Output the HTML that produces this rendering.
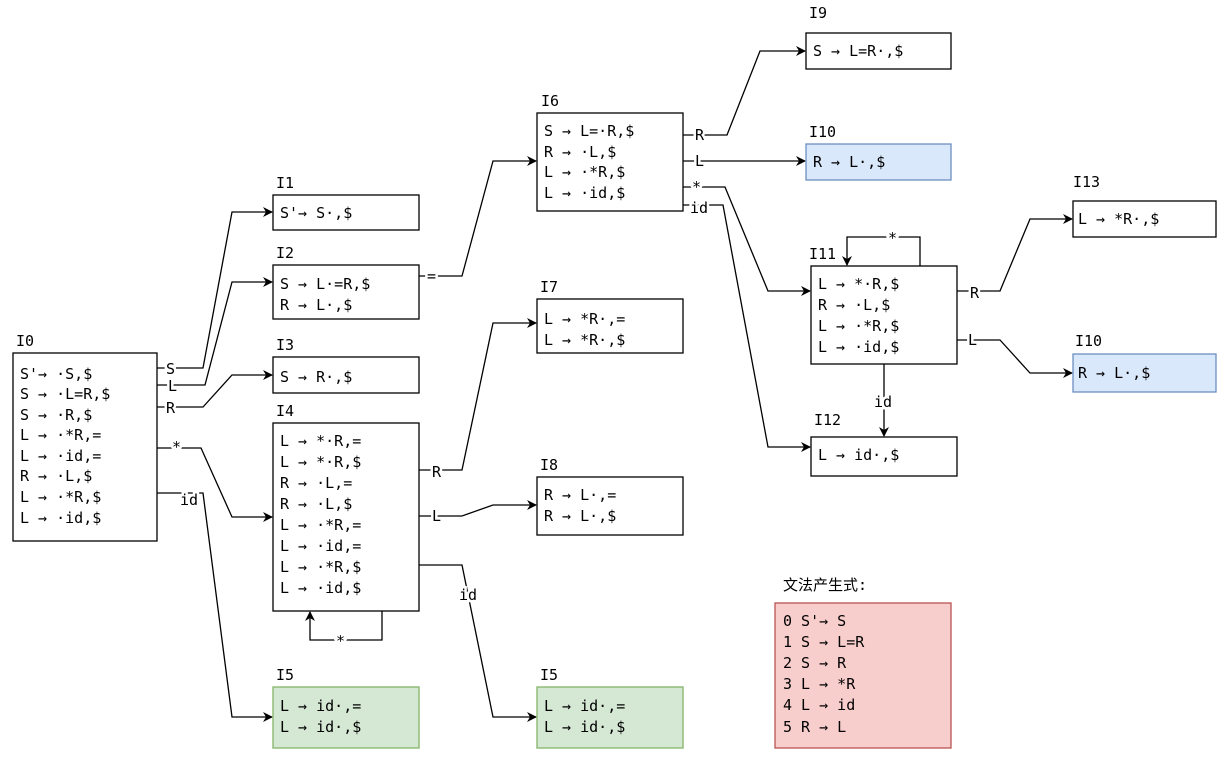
<!DOCTYPE html>
<html><head><meta charset="utf-8"><style>
html,body{margin:0;padding:0;background:#fff}
svg text{font-family:"DejaVu Sans Mono","Liberation Mono","Noto Sans CJK SC",monospace;font-size:15px;fill:#000}
.lb{paint-order:stroke;stroke:#fff;stroke-width:5px}
</style></head><body>
<svg width="1229" height="762" xmlns="http://www.w3.org/2000/svg">
<defs><marker id="a" markerWidth="10" markerHeight="10" refX="9" refY="5" orient="auto" markerUnits="userSpaceOnUse"><path d="M0,0 L10,5 L0,10 L3,5 z" fill="#000"/></marker></defs>
<g fill="none" stroke="#000" stroke-width="1.3">
<path d="M157,368H203L232,212H272" marker-end="url(#a)"/>
<path d="M157,385H205L232,282H272" marker-end="url(#a)"/>
<path d="M157,407H203L232,375H272" marker-end="url(#a)"/>
<path d="M157,448H201L232,517H272" marker-end="url(#a)"/>
<path d="M157,493H203L232,717H272" marker-end="url(#a)"/>
<path d="M419,276H462L493,161H536" marker-end="url(#a)"/>
<path d="M419,470H462L493,323H536" marker-end="url(#a)"/>
<path d="M419,516H462L493,505H536" marker-end="url(#a)"/>
<path d="M419,565H462L493,717H536" marker-end="url(#a)"/>
<path d="M382,611V640H310V612" marker-end="url(#a)"/>
<path d="M683,135H727L760,51H805" marker-end="url(#a)"/>
<path d="M683,161H805" marker-end="url(#a)"/>
<path d="M683,187H725L768,291H810" marker-end="url(#a)"/>
<path d="M683,205H723L768,447H810" marker-end="url(#a)"/>
<path d="M920,266V237H847V265" marker-end="url(#a)"/>
<path d="M957,291H1000L1030,219H1072" marker-end="url(#a)"/>
<path d="M957,340H1000L1030,373H1072" marker-end="url(#a)"/>
<path d="M884,364V436" marker-end="url(#a)"/>
</g>
<g class="lb">
<text x="166" y="374" class="lb">S</text>
<text x="168" y="391" class="lb">L</text>
<text x="166" y="413" class="lb">R</text>
<text x="172" y="452" class="lb">*</text>
<text x="180" y="505" class="lb">id</text>
<text x="427" y="281" class="lb">=</text>
<text x="432" y="477" class="lb">R</text>
<text x="432" y="521" class="lb">L</text>
<text x="459" y="600" class="lb">id</text>
<text x="336" y="646" class="lb">*</text>
<text x="695" y="140" class="lb">R</text>
<text x="695" y="166" class="lb">L</text>
<text x="692" y="192" class="lb">*</text>
<text x="690" y="213" class="lb">id</text>
<text x="888" y="243" class="lb">*</text>
<text x="970" y="298" class="lb">R</text>
<text x="968" y="345" class="lb">L</text>
<text x="874" y="407" class="lb">id</text>
</g>
<g stroke-width="1.3">
<rect x="13" y="353" width="144" height="188" fill="#fff" stroke="#000"/>
<rect x="273" y="195" width="146" height="35" fill="#fff" stroke="#000"/>
<rect x="273" y="265" width="146" height="54" fill="#fff" stroke="#000"/>
<rect x="273" y="357" width="146" height="36" fill="#fff" stroke="#000"/>
<rect x="273" y="423" width="146" height="188" fill="#fff" stroke="#000"/>
<rect x="273" y="687" width="146" height="61" fill="#d5e8d4" stroke="#82b366"/>
<rect x="537" y="687" width="146" height="61" fill="#d5e8d4" stroke="#82b366"/>
<rect x="537" y="113" width="146" height="98" fill="#fff" stroke="#000"/>
<rect x="537" y="299" width="146" height="54" fill="#fff" stroke="#000"/>
<rect x="537" y="477" width="146" height="58" fill="#fff" stroke="#000"/>
<rect x="806" y="33" width="145" height="36" fill="#fff" stroke="#000"/>
<rect x="806" y="144" width="145" height="36" fill="#dae8fc" stroke="#6c8ebf"/>
<rect x="811" y="266" width="146" height="98" fill="#fff" stroke="#000"/>
<rect x="811" y="437" width="146" height="39" fill="#fff" stroke="#000"/>
<rect x="1073" y="201" width="143" height="36" fill="#fff" stroke="#000"/>
<rect x="1073" y="354" width="143" height="38" fill="#dae8fc" stroke="#6c8ebf"/>
<rect x="775" y="603" width="176" height="145" fill="#f8cecc" stroke="#b85450"/>
</g>
<text x="16" y="346">I0</text><text x="276" y="188">I1</text><text x="276" y="258">I2</text>
<text x="276" y="350">I3</text><text x="276" y="416">I4</text><text x="276" y="680">I5</text>
<text x="540" y="680">I5</text><text x="541" y="106">I6</text><text x="540" y="292">I7</text>
<text x="540" y="470">I8</text><text x="809" y="18">I9</text><text x="809" y="137">I10</text>
<text x="809" y="259">I11</text><text x="814" y="425">I12</text><text x="1073" y="187">I13</text>
<text x="1075" y="346">I10</text><text x="783" y="590">文法产生式:</text>
<g>
<text x="20" y="379">S'→ ·S,$</text><text x="20" y="399">S → ·L=R,$</text><text x="20" y="420">S → ·R,$</text>
<text x="20" y="440">L → ·*R,=</text><text x="20" y="461">L → ·id,=</text><text x="20" y="481">R → ·L,$</text>
<text x="20" y="502">L → ·*R,$</text><text x="20" y="523">L → ·id,$</text>
<text x="280" y="218">S'→ S·,$</text>
<text x="280" y="289">S → L·=R,$</text><text x="280" y="310">R → L·,$</text>
<text x="280" y="382">S → R·,$</text>
<text x="280" y="446">L → *·R,=</text><text x="280" y="467">L → *·R,$</text><text x="280" y="488">R → ·L,=</text>
<text x="280" y="509">R → ·L,$</text><text x="280" y="530">L → ·*R,=</text><text x="280" y="551">L → ·id,=</text>
<text x="280" y="572">L → ·*R,$</text><text x="280" y="593">L → ·id,$</text>
<text x="280" y="711">L → id·,=</text><text x="280" y="732">L → id·,$</text>
<text x="544" y="711">L → id·,=</text><text x="544" y="732">L → id·,$</text>
<text x="544" y="136">S → L=·R,$</text><text x="544" y="157">R → ·L,$</text><text x="544" y="177">L → ·*R,$</text><text x="544" y="198">L → ·id,$</text>
<text x="544" y="324">L → *R·,=</text><text x="544" y="345">L → *R·,$</text>
<text x="544" y="500">R → L·,=</text><text x="544" y="521">R → L·,$</text>
<text x="813" y="56">S → L=R·,$</text>
<text x="813" y="167">R → L·,$</text>
<text x="818" y="289">L → *·R,$</text><text x="818" y="310">R → ·L,$</text><text x="818" y="331">L → ·*R,$</text><text x="818" y="352">L → ·id,$</text>
<text x="818" y="460">L → id·,$</text>
<text x="1078" y="224">L → *R·,$</text>
<text x="1078" y="378">R → L·,$</text>
<text x="783" y="626">0  S'→ S</text><text x="783" y="647">1  S → L=R</text><text x="783" y="668">2  S → R</text>
<text x="783" y="689">3  L → *R</text><text x="783" y="710">4  L → id</text><text x="783" y="732">5  R → L</text>
</g>
</svg>
</body></html>
